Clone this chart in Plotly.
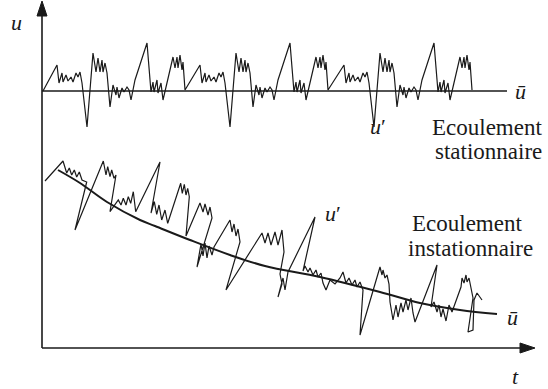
import plotly.graph_objects as go

# ---- stationary flow: u(t) fluctuating around a constant mean ----
stat_t = [1, 15, 17, 20, 21, 24, 26, 29, 31, 34, 36, 38, 40, 45, 51, 54, 56, 58, 60, 61,
          63, 65, 68, 71, 74, 75, 77, 80, 82, 85, 87, 89, 93, 105, 109, 111, 112, 115, 116, 119,
          121, 128, 131, 133, 135, 136, 138, 140, 141, 143,
          158, 160, 163, 164, 167, 169, 172, 174, 177, 179, 181, 183, 188, 194, 197, 199, 201, 203, 204,
          206, 208, 211, 214, 217, 218, 220, 223, 225, 228, 230, 232, 236, 248, 252, 254, 255, 258, 259,
          262, 264, 271, 274, 276, 278, 279, 281, 283, 284, 286,
          302, 304, 307, 308, 311, 313, 316, 318, 321, 323, 325, 327, 332, 338, 341, 343, 345, 347, 348,
          350, 352, 355, 358, 361, 362, 364, 367, 369, 372, 374, 376, 380, 392, 396, 398, 399, 402, 403,
          406, 408, 415, 418, 420, 422, 423, 425, 427, 428, 430]
stat_u = [257, 283, 265, 275, 266, 273, 267, 271, 266, 275, 271, 276, 265, 221, 295, 276, 290, 276, 288, 276,
          285, 275, 241, 263, 253, 261, 250, 260, 256, 261, 258, 248, 268, 305, 256, 266, 256, 268, 255, 265,
          248, 278, 291, 280, 291, 280, 293, 278, 286, 258,
          283, 265, 275, 266, 273, 267, 271, 266, 275, 271, 276, 265, 221, 295, 276, 290, 276, 288, 276,
          285, 275, 241, 263, 253, 261, 250, 260, 256, 261, 258, 248, 268, 305, 256, 266, 256, 268, 255,
          265, 248, 278, 291, 280, 291, 280, 293, 278, 286, 258,
          283, 265, 275, 266, 273, 267, 271, 266, 275, 271, 276, 265, 221, 295, 276, 290, 276, 288, 276,
          285, 275, 241, 263, 253, 261, 250, 260, 256, 261, 258, 248, 268, 305, 256, 266, 256, 268, 255,
          265, 248, 278, 291, 280, 291, 280, 293, 278, 286, 258]
stat_mean_t = [0, 465]
stat_mean_u = [257, 257]

# ---- unsteady flow: u(t) fluctuating around a decaying mean ----
inst_t = [3, 21, 24.7, 27.3, 29.7, 32.3, 34.7, 37.3, 40, 44.7, 33, 61.3, 64, 65.7, 68, 69.7, 72, 74, 68,
          76.3, 79, 81.3, 84, 86.3, 88.7, 91.3, 93.7, 118, 109, 112.3, 114.7, 117, 119.7, 123, 125.7,
          136.3, 138.7, 140.3, 142.3, 144, 145.7, 147.3, 144, 158, 161, 163, 166, 168, 170, 155, 159,
          161, 163, 165, 167, 170, 172, 188, 190, 192, 194, 196, 198, 184, 216, 220, 223, 226, 229, 233,
          236, 240, 242, 238, 240, 236, 241, 243, 246, 273, 261, 263, 266, 268, 271, 274, 276, 279, 281,
          284, 288, 293, 298, 301, 304, 307, 310, 313, 315, 318, 321, 318, 338, 340, 341, 343, 345, 347,
          348, 351, 354, 356, 359, 361, 364, 366, 369, 371, 373, 395, 389, 392, 395, 397, 399, 401, 404,
          407, 410, 419, 420, 422, 424, 425, 427, 429, 431, 426, 431, 432, 435, 440]
inst_u = [167, 187, 175, 180, 173, 178, 171, 176, 168, 166, 118, 187, 173, 181.3, 171.3, 178, 169.7, 173, 136.3,
          148, 143, 149.7, 143, 151.3, 144.7, 156.3, 136.3, 186, 135, 146.3, 133.7, 143, 128, 138, 124.7,
          158, 164.7, 154.7, 163.7, 153, 159.7, 151.3, 112, 145, 136, 144, 133, 141, 130, 81, 104,
          92, 105, 90, 102, 93, 101, 128, 116, 124, 112, 119, 106, 58, 108, 115, 105, 115, 103, 116,
          103, 118, 96, 74, 64, 51, 70, 58, 76, 131, 77, 82, 76, 80, 73, 78, 71, 75, 65,
          58, 68, 64, 70, 76, 65, 70, 63, 68, 61, 66, 58, 13, 81, 73, 78, 70, 73, 64,
          46, 28, 43, 31, 45, 36, 48, 38, 50, 35, 26, 83, 41, 46, 36, 43, 31, 39, 27,
          43, 36, 61, 70, 65, 73, 66, 70, 58, 50, 16, 18, 48, 55, 48]
inst_mean_t = [16, 38, 65, 98, 113, 148, 188, 223, 278, 338, 378, 418, 455]
inst_mean_u = [178, 165, 146, 128, 122, 108, 93, 82, 71, 56, 45, 38, 34]

INK = "#1a1a1a"
SERIF = "'Liberation Serif', 'Times New Roman', 'DejaVu Serif', serif"

fig = go.Figure()
fig.add_trace(go.Scatter(x=stat_mean_t, y=stat_mean_u, mode="lines",
                         line=dict(color=INK, width=1.6), hoverinfo="skip"))
fig.add_trace(go.Scatter(x=stat_t, y=stat_u, mode="lines",
                         line=dict(color=INK, width=1.2), hoverinfo="skip"))
fig.add_trace(go.Scatter(x=inst_mean_t, y=inst_mean_u, mode="lines",
                         line=dict(color=INK, width=2.0, shape="spline"), hoverinfo="skip"))
fig.add_trace(go.Scatter(x=inst_t, y=inst_u, mode="lines",
                         line=dict(color=INK, width=1.2), hoverinfo="skip"))

# axes with arrow heads
fig.add_shape(type="line", x0=0, y0=0, x1=0, y1=334, line=dict(color=INK, width=1.6))
fig.add_shape(type="line", x0=0, y0=0, x1=480, y1=0, line=dict(color=INK, width=1.6))
fig.add_shape(type="path", path="M -5,332 L 0,347 L 5,332 Z", fillcolor=INK, line=dict(color=INK, width=1))
fig.add_shape(type="path", path="M 478,-5 L 493,0 L 478,5 Z", fillcolor=INK, line=dict(color=INK, width=1))

def txt(x, y, s, size=23):
    fig.add_annotation(x=x, y=y, text=s, showarrow=False, xanchor="center", yanchor="middle",
                       font=dict(family=SERIF, size=size, color=INK))

txt(-26, 326, "<i>u</i>", 22)
txt(473, -28, "<i>t</i>", 22)
txt(478, 257, "<i>ū</i>", 22)
txt(470, 31, "<i>ū</i>", 22)
txt(336, 222, "<i>u</i>′", 22)
txt(291, 135, "<i>u</i>′", 22)
txt(445, 221, "Ecoulement")
txt(446, 197, "stationnaire")
txt(425, 125, "Ecoulement")
txt(428, 100, "instationnaire")

fig.update_layout(
    width=548, height=389, margin=dict(l=0, r=0, t=0, b=0, autoexpand=False),
    paper_bgcolor="white", plot_bgcolor="white", showlegend=False,
    font=dict(family=SERIF),
    xaxis=dict(range=[-42, 506], visible=False, fixedrange=True),
    yaxis=dict(range=[-41, 348], visible=False, fixedrange=True),
)
fig.write_html("out.html", config={"displayModeBar": False},
               post_script="document.body.style.margin='0px';document.body.style.overflow='hidden';")
